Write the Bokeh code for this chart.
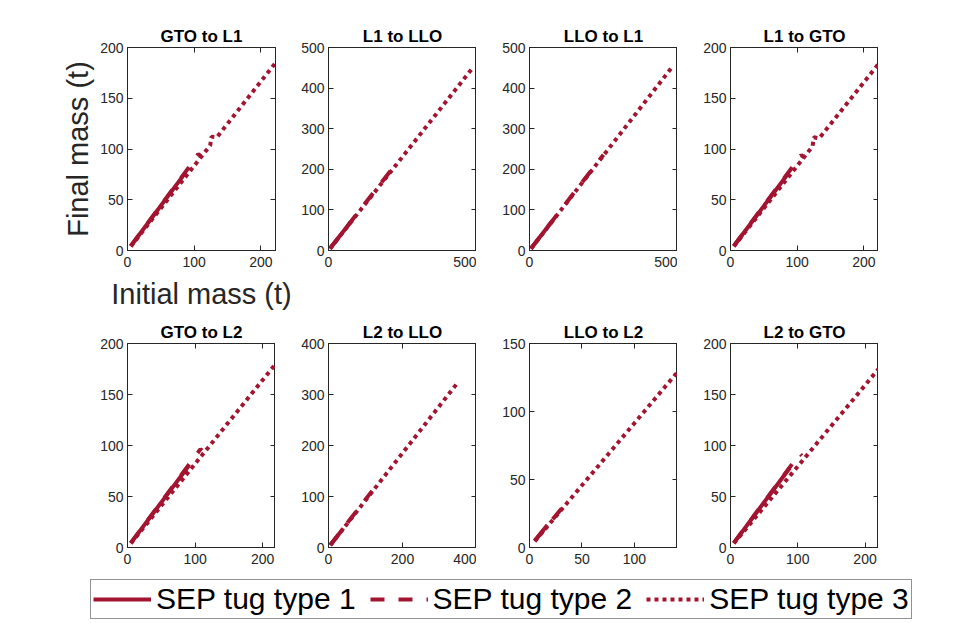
from bokeh.plotting import figure
from bokeh.models import Range1d, LinearAxis, FixedTicker, Legend, LegendItem
from bokeh.layouts import column, row
from bokeh.embed import file_html
from bokeh.resources import INLINE

# ---------------- data ----------------
titles = ["GTO to L1", "L1 to LLO", "LLO to L1", "L1 to GTO",
          "GTO to L2", "L2 to LLO", "LLO to L2", "L2 to GTO"]
x_max = [222, 500, 500, 222, 219, 400, 141, 220]
y_max = [200, 500, 500, 200, 200, 400, 150, 200]
x_ticks = [[0, 100, 200], [0, 500], [0, 500], [0, 100, 200],
           [0, 100, 200], [0, 200, 400], [0, 50, 100], [0, 100, 200]]
y_ticks = [[0, 50, 100, 150, 200], [0, 100, 200, 300, 400, 500],
           [0, 100, 200, 300, 400, 500], [0, 50, 100, 150, 200],
           [0, 50, 100, 150, 200], [0, 100, 200, 300, 400],
           [0, 50, 100, 150], [0, 50, 100, 150, 200]]

# SEP tug type 1 (solid)
t1_x = [[5, 85, 89], [5, 75], [5, 75], [5, 85, 89],
        [5, 90], [5, 40], [5, 17], [5, 88]]
t1_y = [[4.5, 75, 75], [5, 70], [5, 71], [4.5, 74.5, 74.5],
        [4.5, 79.5], [5, 37.5], [5, 16.5], [4.5, 78]]
# SEP tug type 2 (dashed)
t2_x = [[5, 96, 106, 110], [5, 237], [5, 250], [5, 96, 106, 110],
        [5, 108, 110], [5, 86, 118], [5, 38], [5, 103, 106]]
t2_y = [[4.5, 85.5, 95, 93], [5, 222], [5, 236], [4.5, 85, 94, 92],
        [4.5, 96.5, 95], [5, 81, 111], [5, 35.5], [4.5, 92, 90]]
# SEP tug type 3 (dotted)
t3_x = [[5, 124, 126, 134, 221], [5, 484], [5, 483], [5, 123, 125, 133, 221],
        [5, 218], [5, 350], [5, 141], [5, 220]]
t3_y = [[4, 103.5, 112, 111.5, 184], [4.5, 447], [4.5, 453], [4, 102.5, 111.5, 110.5, 183],
        [4, 179], [4.5, 324], [4.5, 129], [4, 175]]

legend_labels = ["SEP tug type 1", "SEP tug type 2", "SEP tug type 3"]

# ---------------- style ----------------
COLOR = "#A2142F"
AX = "#262626"
FONT = "Liberation Sans"
LW = 4
DASH = ["solid", "14 14", "4 4"]


def make_panel(i):
    col = i % 4
    r = i // 4
    fh = 203 if r == 0 else 204
    if i == 0:
        mbl, mbr = 127, 20
    elif i == 1:
        mbl, mbr = 33, 0
    else:
        mbl, mbr = (127 if col == 0 else 53), 0
    p = figure(frame_width=148, frame_height=fh,
               x_range=Range1d(0, x_max[i]), y_range=Range1d(0, y_max[i]),
               output_backend="svg", toolbar_location=None,
               min_border_left=mbl, min_border_right=mbr,
               min_border_top=47 if r == 0 else 29,
               min_border_bottom=64 if r == 0 else 29,
               background_fill_color="white", border_fill_color="white",
               outline_line_color=AX, outline_line_width=1)
    p.grid.visible = False
    p.title.text = titles[i]
    p.title.align = "center"
    p.title.text_font = FONT
    p.title.text_font_style = "bold"
    p.title.text_font_size = "17px"
    p.title.text_color = "black"
    p.title.standoff = 3

    for ax, ticks in ((p.xaxis[0], x_ticks[i]), (p.yaxis[0], y_ticks[i])):
        ax.ticker = FixedTicker(ticks=ticks, minor_ticks=[])
        ax.major_tick_in = 5
        ax.major_tick_out = 0
        ax.major_tick_line_color = AX
        ax.minor_tick_line_color = None
        ax.axis_line_color = AX
        ax.major_label_text_font = FONT
        ax.major_label_text_font_size = "14px"
        ax.major_label_text_color = AX
    p.xaxis[0].major_label_standoff = 6
    p.yaxis[0].major_label_standoff = 4

    if i == 0:
        p.xaxis[0].axis_label = "Initial mass (t)"
        p.yaxis[0].axis_label = "Final mass (t)"
        for ax in (p.xaxis[0], p.yaxis[0]):
            ax.axis_label_text_font = FONT
            ax.axis_label_text_font_size = "29px"
            ax.axis_label_text_font_style = "normal"
            ax.axis_label_text_color = AX
        p.xaxis[0].axis_label_standoff = 8
        p.yaxis[0].axis_label_standoff = 3

    # mirrored ticks on top and right (MATLAB box)
    top = LinearAxis(ticker=FixedTicker(ticks=[], minor_ticks=x_ticks[i]),
                     minor_tick_in=5, minor_tick_out=0, minor_tick_line_color=AX,
                     major_tick_in=0, major_tick_out=0, axis_line_color=AX,
                     major_label_standoff=0)
    right = LinearAxis(ticker=FixedTicker(ticks=[], minor_ticks=y_ticks[i]),
                       minor_tick_in=5, minor_tick_out=0, minor_tick_line_color=AX,
                       major_tick_in=0, major_tick_out=0, axis_line_color=AX,
                       major_label_standoff=0)
    p.add_layout(top, "above")
    p.add_layout(right, "right")

    p.line(t3_x[i], t3_y[i], line_color=COLOR, line_width=LW, line_dash=DASH[2])
    p.line(t2_x[i], t2_y[i], line_color=COLOR, line_width=LW, line_dash=DASH[1])
    p.line(t1_x[i], t1_y[i], line_color=COLOR, line_width=LW, line_dash=DASH[0])
    return p


panels = [make_panel(i) for i in range(8)]

# legend strip: proxies use panel-1 data, kept outside the visible range
lf = figure(width=977, height=47, x_range=Range1d(-20, -10), y_range=Range1d(-20, -10),
            output_backend="svg", toolbar_location=None,
            x_axis_location=None, y_axis_location=None,
            min_border=0, outline_line_color=None,
            background_fill_color="white", border_fill_color="white")
lf.grid.visible = False
items = []
series_x = [t1_x[0], t2_x[0], t3_x[0]]
series_y = [t1_y[0], t2_y[0], t3_y[0]]
for k in range(3):
    rr = lf.line(x=series_x[k], y=series_y[k], line_color=COLOR, line_width=LW,
                 line_dash=DASH[k])
    items.append(LegendItem(label=legend_labels[k], renderers=[rr]))
leg = Legend(items=items, orientation="horizontal", location=(90, 4),
             label_text_font=FONT, label_text_font_size="30px",
             label_text_color="black", glyph_width=58, glyph_height=30,
             label_standoff=5, spacing=14, padding=2, margin=0,
             border_line_color=AX, border_line_width=1,
             background_fill_color="white", background_fill_alpha=1)
lf.add_layout(leg, "center")

layout = column(row(*panels[:4], spacing=0), row(*panels[4:], spacing=0), lf, spacing=0)

open("out.html", "w").write(file_html(layout, INLINE))
